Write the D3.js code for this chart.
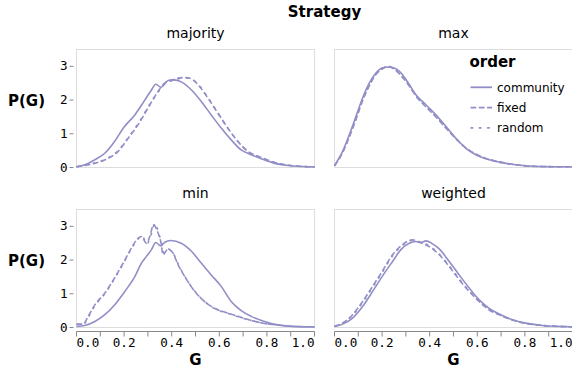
<!DOCTYPE html>
<html>
<head>
<meta charset="utf-8">
<script src="https://cdn.jsdelivr.net/npm/d3@7"></script>
<style>
    body { margin: 0; background: #fff; }
    svg text { font-family: "DejaVu Sans", sans-serif; fill: #000; }
    .axis .tick text { font-family: "DejaVu Sans Mono", monospace; font-size: 12.6px; fill: #000; }
    .axis .tick line, .axis .domain { stroke: #888; }
</style>
</head>
<body>
<svg id="chart" width="572" height="372"></svg>
<script>
const strategies = ["majority", "max", "min", "weighted"];
const orders = ["community", "fixed", "random"];
const yTicks = [0, 1, 2, 3];
const xTicks = [0, 0.1, 0.2, 0.3, 0.4, 0.5, 0.6, 0.7, 0.8, 0.9, 1.0];

// [G, P(G)]
const majorityCommunity = [[0,0.02],[0.035,0.08],[0.077,0.23],[0.12,0.43],[0.16,0.77],[0.2,1.2],[0.245,1.56],[0.287,2.0],[0.315,2.3],[0.333,2.47],[0.355,2.38],[0.385,2.58],[0.41,2.6],[0.44,2.54],[0.483,2.3],[0.524,1.96],[0.566,1.56],[0.608,1.17],[0.65,0.82],[0.692,0.52],[0.734,0.38],[0.776,0.26],[0.83,0.13],[0.888,0.06],[0.95,0.03],[1,0.02]];
const majorityFixed = [[0,0.02],[0.063,0.1],[0.12,0.23],[0.175,0.48],[0.217,0.87],[0.259,1.27],[0.3,1.76],[0.343,2.26],[0.37,2.5],[0.413,2.62],[0.455,2.67],[0.48,2.64],[0.517,2.4],[0.552,2.06],[0.594,1.61],[0.636,1.17],[0.678,0.77],[0.72,0.48],[0.776,0.3],[0.832,0.15],[0.9,0.06],[0.95,0.03],[1,0.02]];
const majorityRandom = [[0,0.02],[0.063,0.11],[0.12,0.24],[0.175,0.5],[0.217,0.88],[0.259,1.3],[0.3,1.78],[0.343,2.24],[0.37,2.48],[0.413,2.6],[0.455,2.66],[0.48,2.63],[0.517,2.42],[0.552,2.08],[0.594,1.62],[0.636,1.16],[0.678,0.78],[0.72,0.47],[0.776,0.29],[0.832,0.15],[0.9,0.06],[0.95,0.03],[1,0.02]];

const maxCommunity = [[0,0.06],[0.034,0.48],[0.062,0.97],[0.09,1.51],[0.118,2.06],[0.146,2.5],[0.174,2.8],[0.2,2.95],[0.23,2.98],[0.258,2.93],[0.286,2.75],[0.314,2.46],[0.342,2.16],[0.384,1.86],[0.426,1.56],[0.468,1.22],[0.51,0.87],[0.552,0.57],[0.594,0.38],[0.636,0.26],[0.692,0.16],[0.762,0.08],[0.86,0.03],[1,0.02]];
const maxFixed = [[0,0.05],[0.034,0.44],[0.062,0.9],[0.09,1.42],[0.118,1.98],[0.146,2.42],[0.174,2.76],[0.2,2.92],[0.225,3.0],[0.25,2.92],[0.28,2.72],[0.314,2.42],[0.342,2.12],[0.384,1.8],[0.426,1.5],[0.468,1.17],[0.51,0.85],[0.552,0.58],[0.594,0.4],[0.636,0.27],[0.692,0.17],[0.762,0.08],[0.86,0.03],[1,0.02]];
const maxRandom = [[0,0.05],[0.034,0.45],[0.062,0.92],[0.09,1.45],[0.118,2.0],[0.146,2.44],[0.174,2.77],[0.2,2.93],[0.228,2.99],[0.255,2.91],[0.283,2.71],[0.314,2.43],[0.342,2.13],[0.384,1.82],[0.426,1.52],[0.468,1.18],[0.51,0.86],[0.552,0.58],[0.594,0.39],[0.636,0.27],[0.692,0.16],[0.762,0.08],[0.86,0.03],[1,0.02]];

const minCommunity = [[0,0.03],[0.035,0.06],[0.077,0.18],[0.119,0.38],[0.16,0.67],[0.203,1.07],[0.245,1.51],[0.273,1.91],[0.294,2.11],[0.315,2.31],[0.333,2.52],[0.354,2.42],[0.371,2.53],[0.396,2.58],[0.44,2.5],[0.483,2.26],[0.524,1.91],[0.566,1.56],[0.608,1.22],[0.65,0.77],[0.692,0.5],[0.734,0.33],[0.79,0.18],[0.846,0.08],[0.916,0.03],[1,0.02]];
const minFixed = [[0,0.1],[0.028,0.1],[0.049,0.33],[0.077,0.67],[0.119,1.02],[0.16,1.47],[0.203,2.0],[0.231,2.36],[0.259,2.65],[0.273,2.7],[0.294,2.5],[0.308,2.7],[0.324,3.05],[0.34,2.85],[0.354,2.55],[0.364,2.16],[0.382,2.31],[0.4,2.26],[0.427,1.86],[0.455,1.51],[0.497,1.07],[0.538,0.77],[0.58,0.57],[0.636,0.43],[0.692,0.3],[0.762,0.16],[0.832,0.08],[0.916,0.03],[1,0.02]];
const minRandom = [[0,0.09],[0.028,0.09],[0.049,0.3],[0.077,0.64],[0.119,1.0],[0.16,1.45],[0.203,1.98],[0.231,2.34],[0.259,2.63],[0.275,2.72],[0.296,2.48],[0.312,2.72],[0.33,3.08],[0.345,2.8],[0.358,2.5],[0.368,2.2],[0.385,2.33],[0.402,2.25],[0.43,1.84],[0.458,1.48],[0.5,1.05],[0.54,0.76],[0.58,0.56],[0.636,0.42],[0.692,0.29],[0.762,0.16],[0.832,0.08],[0.916,0.03],[1,0.02]];

const weightedCommunity = [[0,0.03],[0.034,0.1],[0.076,0.28],[0.118,0.62],[0.16,1.07],[0.2,1.51],[0.244,1.96],[0.279,2.31],[0.314,2.5],[0.342,2.55],[0.363,2.52],[0.384,2.57],[0.412,2.48],[0.44,2.33],[0.482,1.96],[0.524,1.56],[0.566,1.17],[0.608,0.82],[0.65,0.57],[0.692,0.4],[0.748,0.23],[0.804,0.13],[0.874,0.06],[1,0.02]];
const weightedFixed = [[0,0.04],[0.034,0.13],[0.076,0.38],[0.118,0.77],[0.16,1.22],[0.2,1.66],[0.244,2.16],[0.286,2.46],[0.328,2.6],[0.356,2.53],[0.398,2.4],[0.44,2.16],[0.482,1.81],[0.524,1.42],[0.566,1.07],[0.608,0.77],[0.65,0.52],[0.692,0.38],[0.748,0.22],[0.804,0.12],[0.874,0.06],[1,0.02]];
const weightedRandom = [[0,0.04],[0.034,0.12],[0.076,0.36],[0.118,0.74],[0.16,1.19],[0.2,1.63],[0.244,2.13],[0.286,2.44],[0.324,2.58],[0.356,2.54],[0.398,2.42],[0.44,2.18],[0.482,1.83],[0.524,1.44],[0.566,1.08],[0.608,0.78],[0.65,0.53],[0.692,0.38],[0.748,0.22],[0.804,0.12],[0.874,0.06],[1,0.02]];

const densities = {
    majority: { community: majorityCommunity, fixed: majorityFixed, random: majorityRandom },
    max: { community: maxCommunity, fixed: maxFixed, random: maxRandom },
    min: { community: minCommunity, fixed: minFixed, random: minRandom },
    weighted: { community: weightedCommunity, fixed: weightedFixed, random: weightedRandom }
};

class DensityFacets {

    constructor(elementId, cellWidth, cellHeight, offsetLeft, offsetTop) {
        this.svg = d3.select("#" + elementId);
        this.cellWidth = cellWidth;
        this.cellHeight = cellHeight;
        this.offsetLeft = offsetLeft;
        this.offsetTop = offsetTop;
        this.colGap = 20;
        this.rowGap = 42;
        this.color = "#918ec7";
        this.dash = { community: null, fixed: "5.7,2.6", random: "2.7,5.6" };

        this.xScale = d3.scaleLinear().domain([0, 1]).range([0, cellWidth]);
        this.yScale = d3.scaleLinear().domain([0, 3.5]).range([cellHeight, 0]);
    }

    draw() {
        const totalWidth = 2 * this.cellWidth + this.colGap;
        this.svg.append("text")
            .attr("x", this.offsetLeft + totalWidth / 2)
            .attr("y", 16.5)
            .attr("text-anchor", "middle")
            .style("font-size", "15px")
            .style("font-weight", "bold")
            .text("Strategy");

        strategies.forEach((s, i) => this.drawPanel(s, i % 2, Math.floor(i / 2)));
        this.createLegend();
    }

    drawPanel(strategy, col, row) {
        const w = this.cellWidth, h = this.cellHeight;
        const left = this.offsetLeft + col * (w + this.colGap);
        const top = this.offsetTop + row * (h + this.rowGap);

        const g = this.svg.append("g")
            .attr("transform", "translate(" + left + "," + top + ")");

        g.append("rect")
            .attr("width", w)
            .attr("height", h)
            .attr("fill", "none")
            .attr("stroke", "#ddd");

        g.append("text")
            .attr("x", w / 2)
            .attr("y", -12)
            .attr("text-anchor", "middle")
            .style("font-size", "14px")
            .text(strategy);

        if (col === 0) {
            g.append("g")
                .attr("class", "axis")
                .attr("transform", "translate(-3,0)")
                .call(d3.axisLeft(this.yScale)
                    .tickValues(yTicks)
                    .tickSize(4)
                    .tickPadding(2)
                    .offset(0)
                    .tickFormat(d3.format("d")))
                .call(a => a.select(".domain").remove());

            g.append("text")
                .attr("x", -50)
                .attr("y", h / 2 - 3)
                .attr("text-anchor", "middle")
                .style("font-size", "15px")
                .style("font-weight", "bold")
                .text("P(G)");
        }

        if (row === 1) {
            const xAxis = g.append("g")
                .attr("class", "axis")
                .attr("transform", "translate(0," + (h + 4) + ")")
                .call(d3.axisBottom(this.xScale)
                    .tickValues(xTicks)
                    .tickSize(5)
                    .tickSizeOuter(0)
                    .tickPadding(2)
                    .offset(0)
                    .tickFormat((d, i) => i % 2 ? "" : d3.format(".1f")(d)));
            // flush first and last labels to the ends
            const labels = xAxis.selectAll(".tick text");
            labels.filter((d, i) => i === 0).attr("text-anchor", "start");
            labels.filter((d, i) => i === xTicks.length - 1).attr("text-anchor", "end");

            g.append("text")
                .attr("x", w / 2)
                .attr("y", h + 37.5)
                .attr("text-anchor", "middle")
                .style("font-size", "15px")
                .style("font-weight", "bold")
                .text("G");
        }

        const line = d3.line()
            .x(d => this.xScale(d[0]))
            .y(d => this.yScale(d[1]))
            .curve(d3.curveMonotoneX);

        g.selectAll(".density")
            .data(orders.slice().reverse())
            .enter()
            .append("path")
            .attr("class", "density")
            .attr("d", o => line(densities[strategy][o]))
            .attr("fill", "none")
            .attr("stroke", this.color)
            .attr("stroke-width", 1.6)
            .attr("stroke-dasharray", o => this.dash[o]);
    }

    createLegend() {
        const legend = this.svg.append("g")
            .attr("transform", "translate(469.5,0)");

        legend.append("text")
            .attr("x", 0)
            .attr("y", 66.5)
            .style("font-size", "15px")
            .style("font-weight", "bold")
            .text("order");

        const items = legend.selectAll(".legend-item")
            .data(orders)
            .enter()
            .append("g")
            .attr("class", "legend-item")
            .attr("transform", (d, i) => "translate(0," + (87.3 + i * 20.3) + ")");

        items.append("line")
            .attr("x1", 1)
            .attr("x2", 22.5)
            .attr("stroke", this.color)
            .attr("stroke-width", 1.8)
            .attr("stroke-dasharray", d => this.dash[d]);

        items.append("text")
            .attr("x", 27.5)
            .attr("y", 4.3)
            .style("font-size", "12px")
            .text(d => d);
    }
}

const chart = new DensityFacets("chart", 238, 118, 76.5, 49.5);
chart.draw();
</script>
</body>
</html>
